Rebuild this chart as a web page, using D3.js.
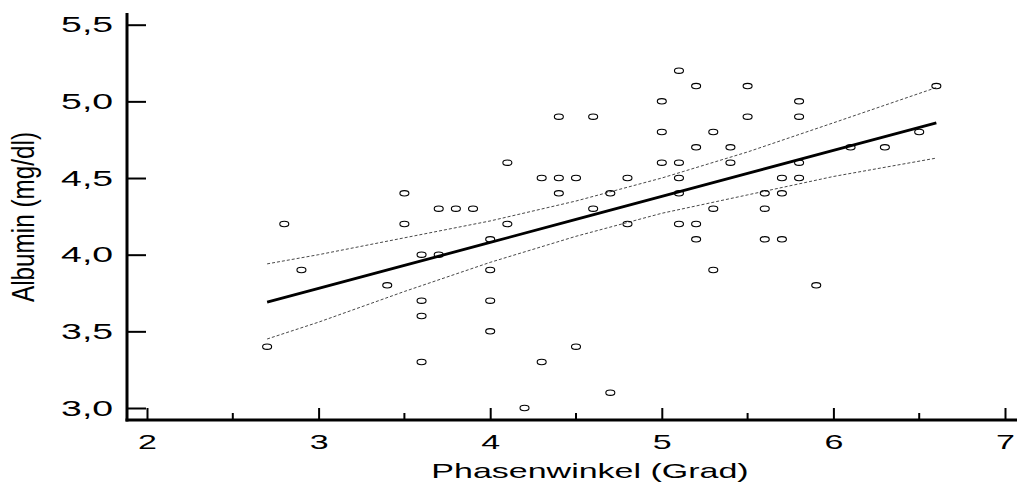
<!DOCTYPE html>
<html>
<head>
  <meta charset="utf-8">
  <title>Albumin vs Phasenwinkel</title>
  <script src="https://d3js.org/d3.v7.min.js"></script>
  <style>
    body { margin: 0; background: #fff; }
    text { font-family: "Liberation Sans", Arial, sans-serif; fill: #000; }
  </style>
</head>
<body>
  <div id="chart"></div>

  <script>
    // Phasenwinkel (Grad) / Albumin (mg/dl), one entry per patient
    const phase = [2.7, 2.8, 2.9, 3.4, 3.5, 3.5, 3.6, 3.6, 3.6, 3.6, 3.7, 3.7, 3.8, 3.9,
      4.0, 4.0, 4.0, 4.0, 4.1, 4.1, 4.2, 4.3, 4.3, 4.4, 4.4, 4.4, 4.5, 4.5, 4.6, 4.6,
      4.7, 4.7, 4.8, 4.8, 5.0, 5.0, 5.0, 5.1, 5.1, 5.1, 5.1, 5.1, 5.2, 5.2, 5.2, 5.2,
      5.3, 5.3, 5.3, 5.4, 5.4, 5.5, 5.5, 5.6, 5.6, 5.6, 5.7, 5.7, 5.7, 5.8, 5.8, 5.8,
      5.8, 5.9, 6.1, 6.3, 6.5, 6.6];
    const albumin = [3.4, 4.2, 3.9, 3.8, 4.4, 4.2, 4.0, 3.7, 3.6, 3.3, 4.3, 4.0, 4.3, 4.3,
      4.1, 3.9, 3.7, 3.5, 4.6, 4.2, 3.0, 4.5, 3.3, 4.9, 4.5, 4.4, 4.5, 3.4, 4.9, 4.3,
      4.4, 3.1, 4.5, 4.2, 5.0, 4.8, 4.6, 5.2, 4.6, 4.5, 4.4, 4.2, 5.1, 4.7, 4.2, 4.1,
      4.8, 4.3, 3.9, 4.7, 4.6, 5.1, 4.9, 4.4, 4.3, 4.1, 4.5, 4.4, 4.1, 5.0, 4.9, 4.6,
      4.5, 3.8, 4.7, 4.7, 4.8, 5.1];

    // regression line and its confidence band
    const bandX = [2.7, 3.0, 3.5, 4.0, 4.5, 5.0, 5.5, 6.0, 6.6];
    const fitY = [3.69, 3.78, 3.93, 4.08, 4.23, 4.38, 4.53, 4.68, 4.86];
    const upperY = [3.94, 4.00, 4.11, 4.22, 4.35, 4.50, 4.67, 4.86, 5.09];
    const lowerY = [3.45, 3.56, 3.76, 3.95, 4.12, 4.27, 4.39, 4.51, 4.63];

    const xTicks = [2, 3, 4, 5, 6, 7];
    const xMinorTicks = [2.5, 3.5, 4.5, 5.5, 6.5];
    const yTicks = [3.0, 3.5, 4.0, 4.5, 5.0, 5.5];

    const width = 1017, height = 491;
    const stretch = 1.7; // text in the original is drawn wide

    const svg = d3.select("#chart")
      .append("svg")
      .attr("width", width)
      .attr("height", height);

    const x = d3.scaleLinear().domain([2, 7]).range([147, 1005]);
    const y = d3.scaleLinear().domain([3, 5.5]).range([408, 24.7]);

    const fmt = d => d3.format(".1f")(d).replace(".", ",");

    // axes lines
    svg.append("line")
      .attr("x1", 127).attr("x2", 127)
      .attr("y1", 13).attr("y2", 421.5)
      .attr("stroke", "#000").attr("stroke-width", 3);
    svg.append("line")
      .attr("x1", 125.5).attr("x2", width)
      .attr("y1", 420).attr("y2", 420)
      .attr("stroke", "#000").attr("stroke-width", 3);

    const yAxis = svg.append("g")
      .attr("transform", "translate(127,0)")
      .call(d3.axisLeft(y).tickValues(yTicks).tickSizeInner(-19).tickSizeOuter(0)
        .tickPadding(8.2).tickFormat(fmt));
    yAxis.select(".domain").remove();
    yAxis.selectAll("line").attr("stroke-width", 2);
    yAxis.selectAll("text")
      .attr("font-size", 22)
      .attr("font-family", "Liberation Sans, Arial, sans-serif")
      .attr("transform", `scale(${stretch},1)`);

    const xAxis = svg.append("g")
      .attr("transform", "translate(0,420)")
      .call(d3.axisBottom(x).tickValues(xTicks).tickSizeInner(-12).tickSizeOuter(0)
        .tickPadding(15).tickFormat(d3.format("d")));
    xAxis.select(".domain").remove();
    xAxis.selectAll("line").attr("stroke-width", 2);
    xAxis.selectAll("text")
      .attr("font-size", 20)
      .attr("font-family", "Liberation Sans, Arial, sans-serif")
      .attr("transform", `scale(${stretch},1)`);

    svg.append("g")
      .selectAll("line")
      .data(xMinorTicks)
      .join("line")
      .attr("x1", d => x(d)).attr("x2", d => x(d))
      .attr("y1", 420).attr("y2", 413)
      .attr("stroke", "#000").attr("stroke-width", 2);

    // confidence band
    const bandLine = (ys) => d3.line()
      .x((d, i) => x(bandX[i]))
      .y((d, i) => y(ys[i]))(ys);

    [upperY, lowerY].forEach(ys => {
      svg.append("path")
        .attr("d", bandLine(ys))
        .attr("fill", "none")
        .attr("stroke", "#333")
        .attr("stroke-width", 0.9)
        .attr("stroke-dasharray", "3,2");
    });

    // regression line
    svg.append("path")
      .attr("d", bandLine(fitY))
      .attr("fill", "none")
      .attr("stroke", "#000")
      .attr("stroke-width", 2.8);

    // points
    svg.append("g")
      .selectAll("ellipse")
      .data(phase)
      .join("ellipse")
      .attr("cx", (d, i) => x(d))
      .attr("cy", (d, i) => y(albumin[i]))
      .attr("rx", 4.5)
      .attr("ry", 2.7)
      .attr("fill", "none")
      .attr("stroke", "#000")
      .attr("stroke-width", 1.1);

    // axis titles
    svg.append("text")
      .attr("transform", `translate(590,478) scale(${stretch},1)`)
      .attr("text-anchor", "middle")
      .attr("font-size", 20)
      .text("Phasenwinkel (Grad)");

    svg.append("text")
      .attr("transform", "translate(34,217) rotate(-90) scale(1,1.34)")
      .attr("text-anchor", "middle")
      .attr("font-size", 23)
      .attr("textLength", 170)
      .attr("lengthAdjust", "spacingAndGlyphs")
      .text("Albumin (mg/dl)");
  </script>
</body>
</html>
